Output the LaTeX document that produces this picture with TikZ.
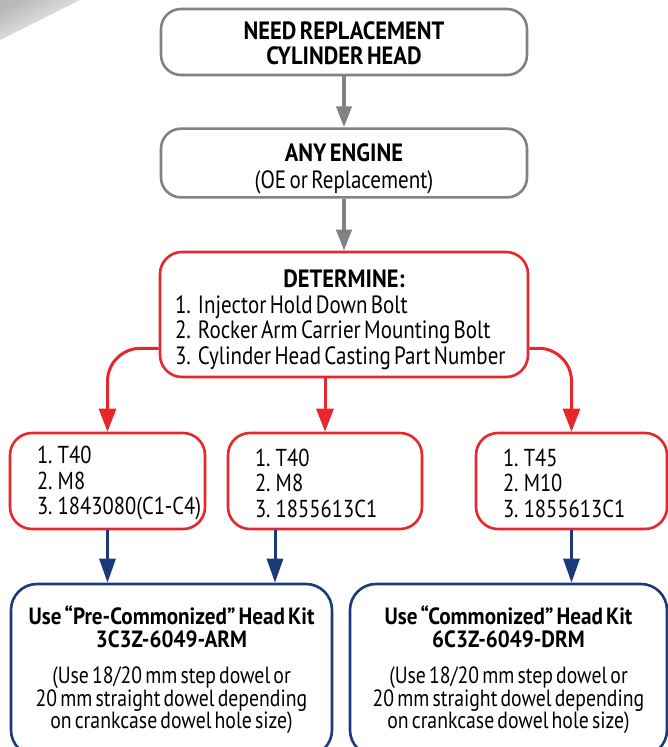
\documentclass[tikz,border=0pt]{standalone}
\usepackage{fontspec}
\setmainfont{PT Sans}[FakeStretch=0.84,WordSpace=0.6,BoldFeatures={FakeStretch=0.9}]
\usetikzlibrary{arrows.meta}
\definecolor{headgray}{RGB}{128,130,133}
\definecolor{headred}{RGB}{232,38,45}
\definecolor{headblue}{RGB}{28,58,122}
\newcommand\tightsp{\spaceskip=0pt \xspaceskip=0pt }

\begin{document}
\begin{tikzpicture}[x=1pt,y=-1pt,
  box/.style={fill=white,line width=2.6pt,font=\fontsize{25}{25.5}\selectfont},
  graybox/.style={box,draw=headgray,rounded corners=20pt,align=center,minimum width=366pt,minimum height=66pt},
  redbox/.style={box,draw=headred,rounded corners=22pt,align=left},
  bluebox/.style={box,draw=headblue,rounded corners=26pt,align=center,minimum height=172pt,font=\fontsize{23.5}{22.5}\selectfont},
  grayarrow/.style={draw=headgray,line width=4pt,-{Triangle[length=21pt,width=15pt]}},
  redarrow/.style={draw=headred,line width=3pt,-{Triangle[length=23pt,width=17pt]}},
  bluearrow/.style={draw=headblue,line width=3pt,-{Triangle[length=24pt,width=16pt]}},
]
\useasboundingbox (0,0) rectangle (668,747);
\clip (0,0) rectangle (668,747);
\fill[white] (0,0) rectangle (668,747);

% shadow in the corner
\shade[top color=black!28,bottom color=white,shading angle=27] (0,0) -- (80,0) -- (0,40) -- cycle;

% top boxes
\node[graybox] (need) at (344,42) {\textbf{\rule{0pt}{20pt}NEED REPLACEMENT}\\\textbf{CYLINDER HEAD}};
\node[graybox] (engine) at (344,163) {\textbf{\rule{0pt}{29pt}ANY ENGINE}\\[2pt](OE or Replacement)};
\node[redbox,text width=338pt,inner xsep=15pt,minimum height=125pt] (det) at (344,314.5) {\tightsp
  \centerline{\rule{0pt}{28pt}\bfseries DETERMINE:}
  \makebox[23pt][l]{1.}Injector Hold Down Bolt\\
  \makebox[23pt][l]{2.}Rocker Arm Carrier Mounting Bolt\\
  \makebox[23pt][l]{3.}\mbox{Cylinder Head Casting Part Number}};

% bolt sizes
\node[redbox,text width=141pt,inner xsep=27pt,minimum height=96pt,font=\fontsize{24.5}{25.5}\selectfont] (t1) at (107.5,481) {\tightsp\rule{0pt}{22pt}1. T40\\2. M8\\\mbox{3. 1843080(C1-C4)}};
\node[redbox,text width=140pt,inner xsep=27pt,minimum height=96pt,font=\fontsize{24.5}{25.5}\selectfont] (t2) at (325,481) {\tightsp\rule{0pt}{22pt}1. T40\\2. M8\\3. 1855613C1};
\node[redbox,text width=137pt,inner xsep=27pt,minimum height=96pt,font=\fontsize{24.5}{25.5}\selectfont] (t3) at (571.5,481) {\tightsp\rule{0pt}{22pt}1. T45\\2. M10\\3. 1855613C1};

% head kits
\node[bluebox,minimum width=321pt] (kit1) at (171.5,670) {\textbf{Use “Pre-Commonized” Head Kit}\\\textbf{3C3Z-6049-ARM}\\[14pt]
  (Use 18/20 mm step dowel or\\20 mm straight dowel depending\\on crankcase dowel hole size)};
\node[bluebox,minimum width=317pt] (kit2) at (508.5,670) {\textbf{Use “Commonized” Head Kit}\\\textbf{6C3Z-6049-DRM}\\[14pt]
  (Use 18/20 mm step dowel or\\20 mm straight dowel depending\\on crankcase dowel hole size)};

% arrows
\draw[grayarrow] (need) -- (engine);
\draw[grayarrow] (engine) -- (det);
\draw[redarrow,rounded corners=33pt] ([yshift=30pt]det.south west) -| (t1.north);
\draw[redarrow] (t2.north |- det.south) -- (t2.north);
\draw[redarrow,rounded corners=33pt] ([yshift=30pt]det.south east) -| (t3.north);
\coordinate (b2) at ([xshift=-50pt]t2.south);
\draw[bluearrow] (t1.south) -- (t1.south |- kit1.north);
\draw[bluearrow] (b2) -- (b2 |- kit1.north);
\draw[bluearrow] (t3.south) -- (t3.south |- kit2.north);
\end{tikzpicture}
\end{document}
